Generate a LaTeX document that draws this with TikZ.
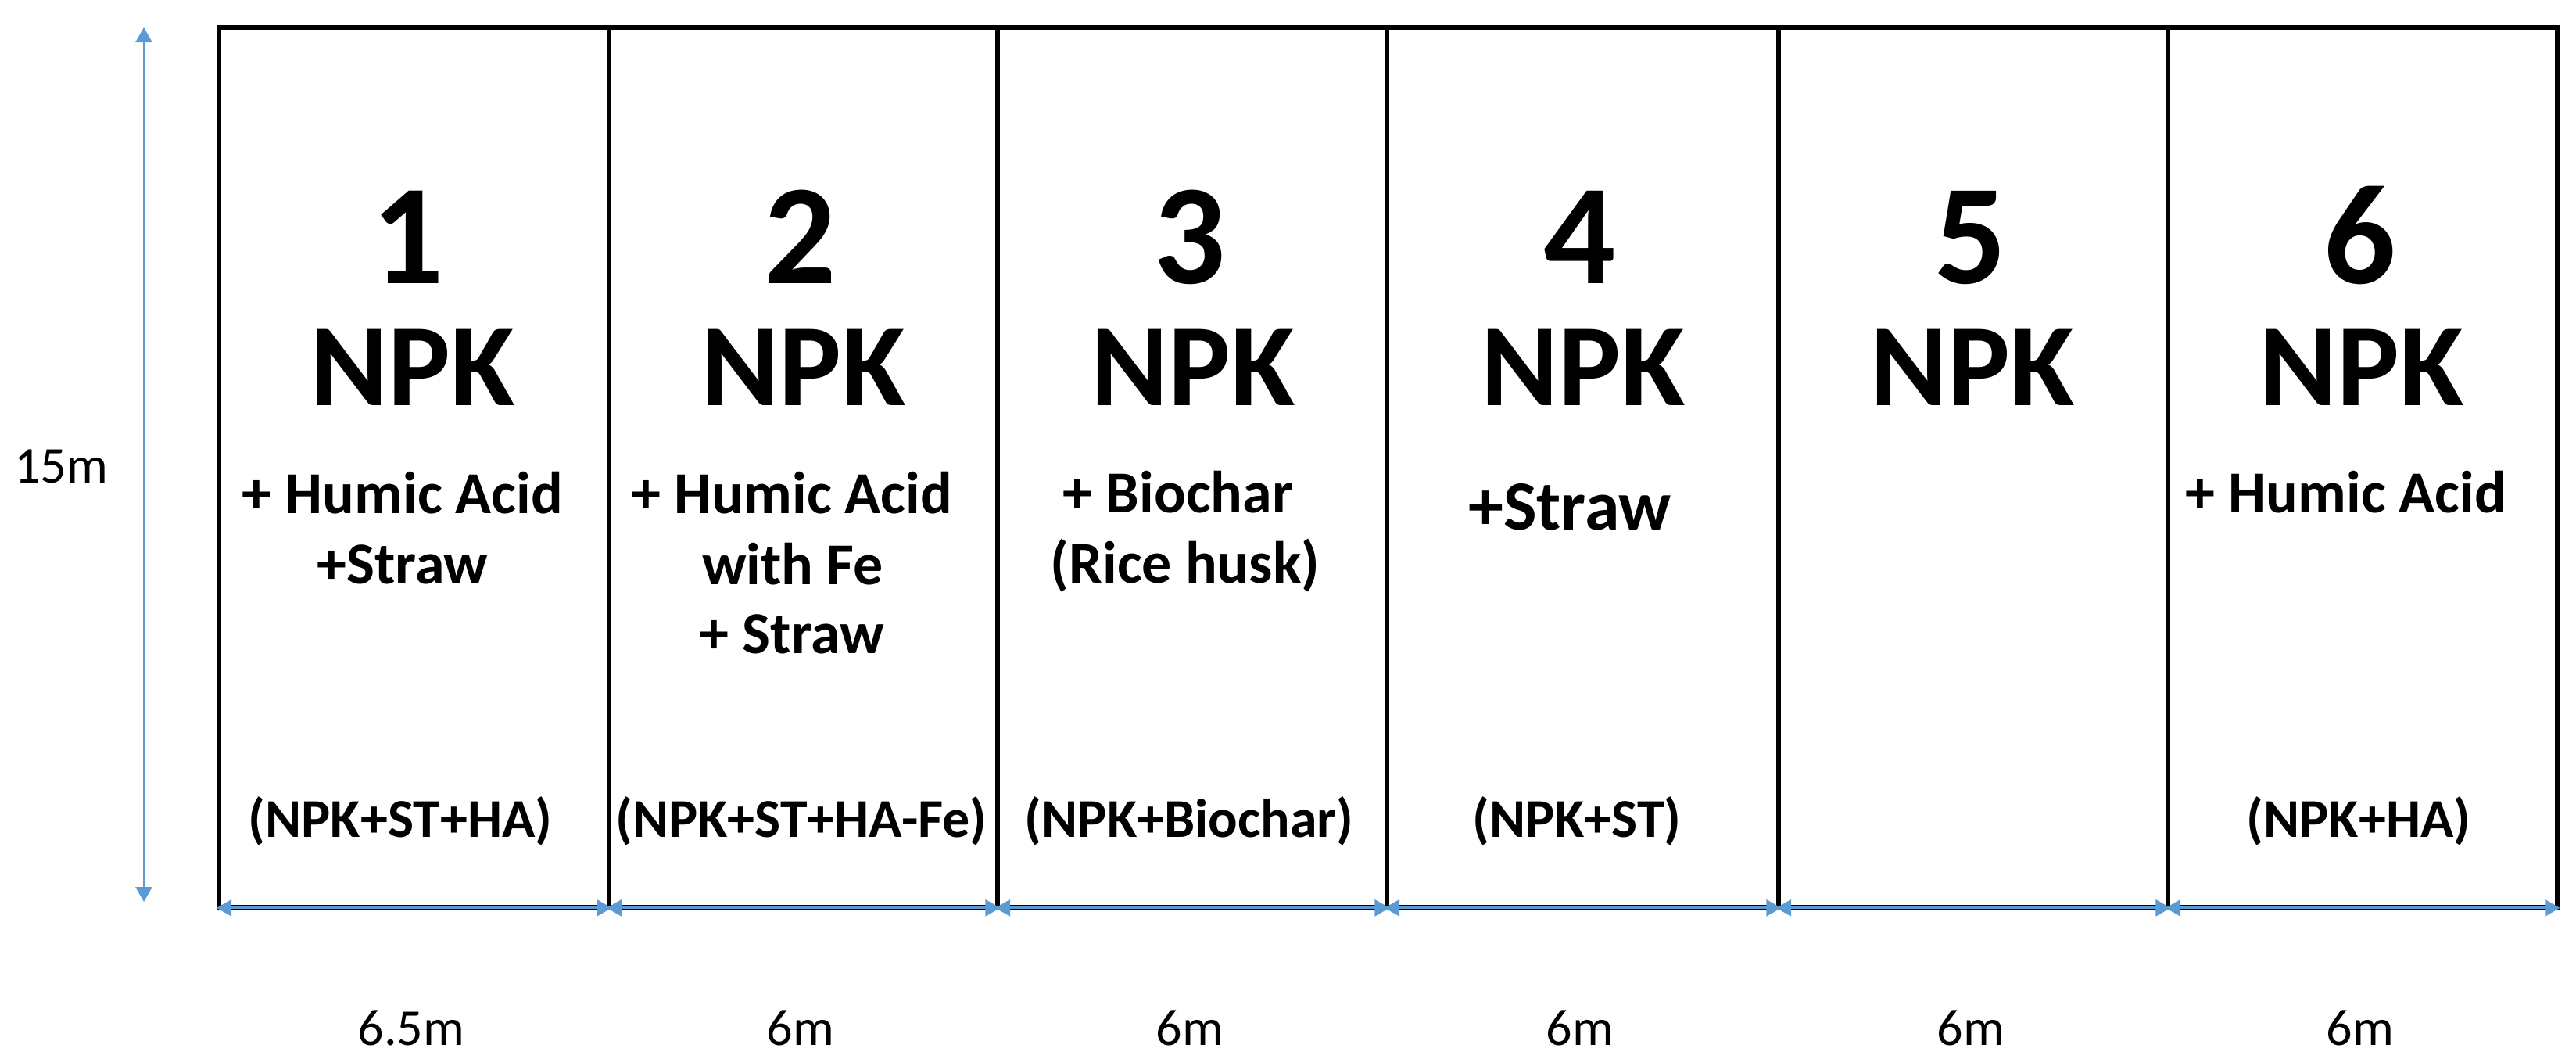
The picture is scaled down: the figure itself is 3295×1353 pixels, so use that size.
\documentclass[tikz,border=0pt]{standalone}
\usepackage{fontspec}
\setmainfont{Carlito}
\usetikzlibrary{arrows.meta}
\definecolor{dimblue}{HTML}{5B9BD5}
\begin{document}
\begin{tikzpicture}[x=0.01cm,y=-0.01cm,
  plot/.style={draw=black, line width=1.75pt, rectangle, inner sep=0pt, minimum height=11.24cm, anchor=north west},
  num/.style={font=\bfseries\fontsize{51.8}{60}\selectfont, anchor=base, inner sep=0pt},
  npk/.style={font=\bfseries\fontsize{42.7}{50}\selectfont, anchor=base, inner sep=0pt},
  sub/.style={font=\bfseries\fontsize{21.6}{26}\selectfont, anchor=base, inner sep=0pt},
  subbig/.style={font=\bfseries\fontsize{25.6}{30}\selectfont, anchor=base, inner sep=0pt},
  code/.style={font=\bfseries\fontsize{19.9}{24}\selectfont, anchor=base, inner sep=0pt},
  dimlabel/.style={font=\fontsize{18.8}{22}\selectfont, anchor=base, inner sep=0pt},
  dimarrow/.style={draw=dimblue, line width=0.8pt, {Triangle[length=0.19cm,width=0.21cm]}-{Triangle[length=0.19cm,width=0.21cm]}}
]
\useasboundingbox (0,0) rectangle (3295,1353);

% plots
\node[plot, minimum width=4.99cm] (p1) at (277,32) {};
\node[plot, minimum width=4.97cm] (p2) at (776,32) {};
\node[plot, minimum width=4.98cm] (p3) at (1273,32) {};
\node[plot, minimum width=5.01cm] (p4) at (1771,32) {};
\node[plot, minimum width=4.98cm] (p5) at (2272,32) {};
\node[plot, minimum width=4.98cm] (p6) at (2770,32) {};

% numbers
\node[num] (n1) at (522,362) {1};
\node[num] (n2) at (1024,362) {2};
\node[num] (n3) at (1522,362) {3};
\node[num] (n4) at (2021,362) {4};
\node[num] (n5) at (2521,362) {5};
\node[num] (n6) at (3019,362) {6};

% NPK
\node[npk] (k1) at (528,518) {NPK};
\node[npk] (k2) at (1028,518) {NPK};
\node[npk] (k3) at (1526,518) {NPK};
\node[npk] (k4) at (2025,518) {NPK};
\node[npk] (k5) at (2523,518) {NPK};
\node[npk] (k6) at (3021,518) {NPK};

% treatments
\node[sub] (t1a) at (515,656) {+ Humic Acid};
\node[sub] (t1b) at (515,746) {+Straw};
\node[sub] (t2a) at (1013,656) {+ Humic Acid};
\node[sub] (t2b) at (1014,747) {with Fe};
\node[sub] (t2c) at (1013,835) {+ Straw};
\node[sub] (t3a) at (1507,655) {+ Biochar};
\node[sub] (t3b) at (1516,745) {(Rice husk)};
\node[subbig] (t4a) at (2008,677) {+Straw};
\node[sub] (t6a) at (3001,655) {+ Humic Acid};

% codes
\node[code] (c1) at (512,1070) {(NPK+ST+HA)};
\node[code] (c2) at (1025,1070) {(NPK+ST+HA-Fe)};
\node[code] (c3) at (1521,1070) {(NPK+Biochar)};
\node[code] (c4) at (2017,1070) {(NPK+ST)};
\node[code] (c6) at (3017,1070) {(NPK+HA)};

% width arrows
\foreach \p in {p1,p2,p3,p4,p5,p6}{
  \draw[dimarrow] ([yshift=0.02cm]\p.south west) -- ([yshift=0.02cm]\p.south east);
}

% height arrow
\coordinate (vtop) at (184,35);
\coordinate (vbot) at (184,1153);
\draw[dimarrow] (vtop) -- (vbot);

% dimension labels
\node[dimlabel] (h) at (78,617) {15m};
\node[dimlabel] (w1) at (526,1336) {6.5m};
\node[dimlabel] (w2) at (1024,1336) {6m};
\node[dimlabel] (w3) at (1522,1336) {6m};
\node[dimlabel] (w4) at (2021,1336) {6m};
\node[dimlabel] (w5) at (2521,1336) {6m};
\node[dimlabel] (w6) at (3019,1336) {6m};
\end{tikzpicture}
\end{document}
